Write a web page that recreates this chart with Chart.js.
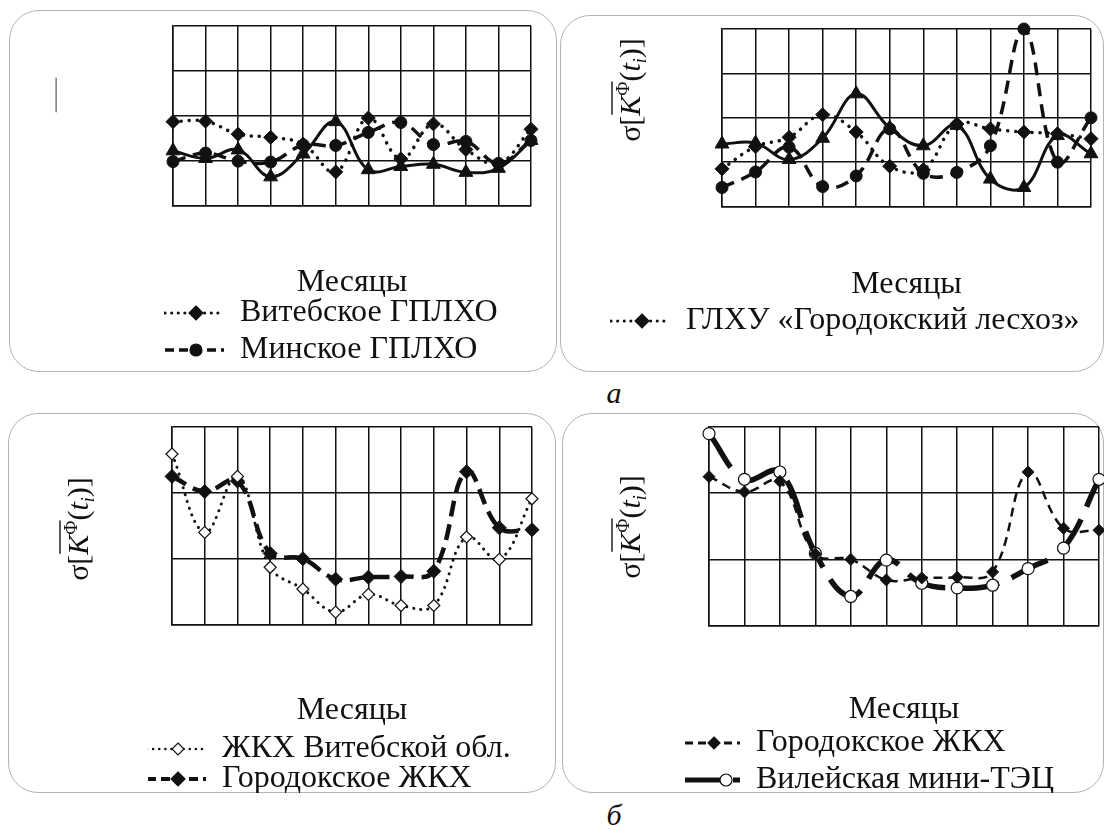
<!DOCTYPE html>
<html lang="ru">
<head>
<meta charset="utf-8">
<title>σ[K(t)] по месяцам</title>
<script src="https://cdn.jsdelivr.net/npm/chart.js@4.4.1/dist/chart.umd.min.js"></script>
<style>
  html, body { margin: 0; padding: 0; background: #fff; }
  body { position: relative; width: 1107px; height: 830px; overflow: hidden; font-family: "Liberation Serif", serif; }
  .panel { position: absolute; box-sizing: border-box; border: 1.5px solid #b3b3b3; border-radius: 30px; }
  .panel canvas { position: absolute; left: -1.5px; top: -1.5px; }
  .cap { position: absolute; width: 40px; text-align: center; font-style: italic; font-size: 30px; line-height: 36px; color: #111; }
</style>
</head>
<body>
<div class="panel" style="left:9px;top:10px;width:548px;height:362px"><canvas id="a1" width="548" height="362"></canvas></div>
<div class="panel" style="left:560px;top:15px;width:544px;height:357px"><canvas id="a2" width="544" height="357"></canvas></div>
<div class="cap" style="left:594px;top:375px">а</div>
<div class="panel" style="left:8px;top:413px;width:548px;height:380px"><canvas id="b1" width="548" height="380"></canvas></div>
<div class="panel" style="left:562px;top:413px;width:542px;height:380px"><canvas id="b2" width="542" height="380"></canvas></div>
<div class="cap" style="left:594px;top:797px">б</div>

<script>
const MONTHS = ['янв', 'фев', 'мар', 'апр', 'май', 'июн', 'июл', 'авг', 'сен', 'окт', 'ноя', 'дек'];

// а) лесхозы
const VITEBSK_GPLHO  = [1.87, 1.88, 1.59, 1.52, 1.37, 0.75, 1.95, 1.04, 1.82, 1.25, 0.94, 1.70];
const MINSK_GPLHO    = [0.98, 1.17, 0.99, 0.97, 1.35, 1.34, 1.63, 1.85, 1.36, 1.43, 0.94, 1.45];
const A_LEFT_SOLID   = [1.22, 1.05, 1.24, 0.64, 1.15, 1.87, 0.80, 0.87, 0.92, 0.74, 0.83, 1.45];
const GORODOK_LESHOZ = [0.85, 1.35, 1.56, 2.07, 1.68, 0.91, 0.83, 1.86, 1.75, 1.68, 1.64, 1.53];
const A_RIGHT_DASHED = [0.43, 0.78, 1.34, 0.45, 0.69, 1.75, 0.75, 0.77, 1.37, 4.00, 1.00, 2.00];
const A_RIGHT_SOLID  = [1.41, 1.43, 1.06, 1.54, 2.54, 1.77, 1.37, 1.83, 0.62, 0.43, 1.60, 1.19];

// б) ЖКХ
const ZHKH_VITEBSK_OBL = [2.59, 1.40, 2.25, 0.87, 0.54, 0.19, 0.46, 0.29, 0.29, 1.33, 0.99, 1.91];
const GORODOK_ZHKH     = [2.25, 2.02, 2.18, 1.08, 1.00, 0.69, 0.72, 0.73, 0.81, 2.32, 1.47, 1.44];
const VILEIKA_TEC      = [2.90, 2.21, 2.32, 1.09, 0.44, 0.99, 0.64, 0.57, 0.61, 0.86, 1.17, 2.21];

const Y_MAX_A = 4;
const Y_MAX_B = 3;

const INK = '#111';
const SERIF = '"Liberation Serif", serif';

// line styles
const dotDiamond   = { lw: 3.5, dash: [0.1, 8], cap: 'round', point: 'rectRot', r: 7,
                       sample: { dash: [0.1, 6.5], lw: 3, mx: 32 } };
const dashCircle   = { lw: 3.5, dash: [13, 8], point: 'circle', r: 6,
                       sample: { dash: [9, 5], lw: 3.5, mx: 32 } };
const solidTri     = { lw: 3, dash: [], point: 'triangle', r: 8 };
const dotOpenDiam  = { lw: 3, dash: [0.1, 7], cap: 'round', point: 'rectRot', r: 6, open: true,
                       sample: { dash: [0.1, 6], lw: 2.5, mx: 32 } };
const dashDiamThick = { lw: 4.5, dash: [16, 8], point: 'rectRot', r: 7,
                       sample: { dash: [9, 5], lw: 4, mx: 32 } };
const dashDiamThin = { lw: 2.5, dash: [9, 6], point: 'rectRot', r: 6,
                       sample: { dash: [8, 5], lw: 3, mx: 30 } };
const thickOpenCirc = { lw: 5.5, dash: [40, 14], point: 'circle', r: 6, open: true,
                       sample: { dash: [36, 12], lw: 5, mx: 42 } };

function drawMarker(g, st, x, y) {
  const r = st.r;
  g.beginPath();
  if (st.point === 'circle') {
    g.arc(x, y, r, 0, Math.PI * 2);
  } else {
    g.moveTo(x, y - r); g.lineTo(x + r, y); g.lineTo(x, y + r); g.lineTo(x - r, y); g.closePath();
  }
  g.fillStyle = st.open ? '#fff' : INK;
  g.fill();
  g.lineWidth = 1.2;
  g.strokeStyle = INK;
  g.stroke();
}

function legendSample(st, w) {
  const c = document.createElement('canvas');
  c.width = w; c.height = 20;
  const g = c.getContext('2d');
  g.strokeStyle = INK;
  g.lineWidth = st.sample.lw;
  g.lineCap = st.cap || 'butt';
  g.setLineDash(st.sample.dash);
  g.beginPath(); g.moveTo(1, 10); g.lineTo(w, 10); g.stroke();
  g.setLineDash([]);
  drawMarker(g, st, st.sample.mx, 10);
  return c;
}

function series(label, data, st, sampleW) {
  return {
    label: label,
    data: data,
    borderColor: INK,
    borderWidth: st.lw,
    borderDash: st.dash,
    borderCapStyle: st.cap || 'butt',
    tension: 0.4,
    fill: false,
    clip: false,
    pointStyle: st.point,
    pointRadius: st.r,
    pointBorderWidth: st.open ? 1.2 : 1,
    pointBorderColor: INK,
    pointBackgroundColor: st.open ? '#fff' : INK,
    legendSample: sampleW ? legendSample(st, sampleW) : null
  };
}

// vertical axis caption: σ[K̄ᶠ(tᵢ)] drawn as rotated text
const axisCaption = {
  id: 'axisCaption',
  afterDraw(chart, args, o) {
    if (!o || !o.kind) return;
    const ctx = chart.ctx, area = chart.chartArea;
    ctx.save();
    ctx.translate(area.left + o.dx, area.top + o.dy);
    ctx.rotate(-Math.PI / 2);
    if (o.kind === 'stub') {
      ctx.fillStyle = '#8a8a8a';
      ctx.font = '34px "Liberation Serif"';
      ctx.textAlign = 'center';
      ctx.textBaseline = 'middle';
      ctx.fillText('—', 0, 0);
    } else {
      const big = '30px "Liberation Serif"', bigIt = 'italic 30px "Liberation Serif"';
      const parts = [
        { t: 'σ[', font: big, dy: 0 },
        { t: 'K', font: bigIt, dy: 0, over: true },
        { t: 'Ф', font: '18px "Liberation Serif"', dy: -11, over: true },
        { t: '(', font: big, dy: 0 },
        { t: 't', font: bigIt, dy: 0 },
        { t: 'i', font: 'italic 18px "Liberation Serif"', dy: 6 },
        { t: ')]', font: big, dy: 0 }
      ];
      let total = 0;
      parts.forEach(p => { ctx.font = p.font; p.w = ctx.measureText(p.t).width; total += p.w; });
      let x = -total / 2, ov0 = null, ov1 = null;
      ctx.fillStyle = INK;
      ctx.textBaseline = 'alphabetic';
      parts.forEach(p => {
        ctx.font = p.font;
        ctx.fillText(p.t, x, p.dy);
        if (p.over) { if (ov0 === null) ov0 = x + 1; ov1 = x + p.w; }
        x += p.w;
      });
      ctx.strokeStyle = INK;
      ctx.lineWidth = 1.4;
      ctx.beginPath(); ctx.moveTo(ov0, -28); ctx.lineTo(ov1, -28); ctx.stroke();
    }
    ctx.restore();
  }
};

function makeChart(id, cfg) {
  const grid = { color: INK, lineWidth: 1.5, drawTicks: false };
  const border = { color: INK, width: 1.5 };
  return new Chart(document.getElementById(id), {
    type: 'line',
    data: { labels: MONTHS, datasets: cfg.datasets },
    options: {
      responsive: false,
      animation: false,
      events: [],
      layout: { padding: cfg.pad, autoPadding: false },
      scales: {
        x: {
          grid: grid, border: border,
          ticks: { display: false },
          title: { display: true, text: 'Месяцы', color: INK,
                   font: { family: SERIF, size: 32 }, padding: cfg.titlePad }
        },
        y: {
          min: 0, max: cfg.yMax,
          grid: grid, border: border,
          ticks: { display: false, stepSize: 1 },
          afterFit: s => { s.width = cfg.yWidth; }
        }
      },
      plugins: {
        tooltip: { enabled: false },
        legend: {
          position: 'bottom',
          align: 'start',
          fullSize: true,
          labels: {
            color: INK,
            font: { family: SERIF, size: 32 },
            padding: cfg.legendPad,
            usePointStyle: true,
            pointStyleWidth: cfg.sampleW,
            generateLabels(chart) {
              const items = Chart.defaults.plugins.legend.labels.generateLabels(chart);
              items.forEach(it => { it.pointStyle = chart.data.datasets[it.datasetIndex].legendSample; });
              return items;
            },
            filter: (item, data) => !!data.datasets[item.datasetIndex].legendSample
          }
        },
        axisCaption: cfg.caption
      }
    },
    plugins: [axisCaption]
  });
}

makeChart('a1', {
  datasets: [
    series('Витебское ГПЛХО', VITEBSK_GPLHO, dotDiamond, 60),
    series('Минское ГПЛХО', MINSK_GPLHO, dashCircle, 60),
    series('', A_LEFT_SOLID, solidTri, 0)
  ],
  yMax: Y_MAX_A, yWidth: 14, sampleW: 60, legendPad: 5,
  pad: { left: 150, top: 16, right: 26, bottom: -4 },
  titlePad: { top: 58, bottom: -10 },
  caption: { kind: 'stub', dx: -118, dy: 69 }
});

makeChart('a2', {
  datasets: [
    series('ГЛХУ «Городокский лесхоз»', GORODOK_LESHOZ, dotDiamond, 60),
    series('', A_RIGHT_DASHED, dashCircle, 0),
    series('', A_RIGHT_SOLID, solidTri, 0)
  ],
  yMax: Y_MAX_A, yWidth: 117, sampleW: 60, legendPad: 5,
  pad: { left: 45, top: 14, right: 13, bottom: 25 },
  titlePad: { top: 59, bottom: -4 },
  caption: { kind: 'formula', dx: -82, dy: 61 }
});

makeChart('b1', {
  datasets: [
    series('ЖКХ Витебской обл.', ZHKH_VITEBSK_OBL, dotOpenDiam, 60),
    series('Городокское ЖКХ', GORODOK_ZHKH, dashDiamThick, 60)
  ],
  yMax: Y_MAX_B, yWidth: 24, sampleW: 60, legendPad: -2,
  pad: { left: 140, top: 14, right: 24, bottom: -12 },
  titlePad: { top: 67, bottom: 5 },
  caption: { kind: 'formula', dx: -84, dy: 102 }
});

makeChart('b2', {
  datasets: [
    series('Городокское ЖКХ', GORODOK_ZHKH, dashDiamThin, 56),
    series('Вилейская мини-ТЭЦ', VILEIKA_TEC, thickOpenCirc, 56)
  ],
  yMax: Y_MAX_B, yWidth: 30, sampleW: 56, legendPad: 5,
  pad: { left: 117, top: 14, right: 5, bottom: -13 },
  titlePad: { top: 65, bottom: -7 },
  caption: { kind: 'formula', dx: -69, dy: 100 }
});
</script>
</body>
</html>
